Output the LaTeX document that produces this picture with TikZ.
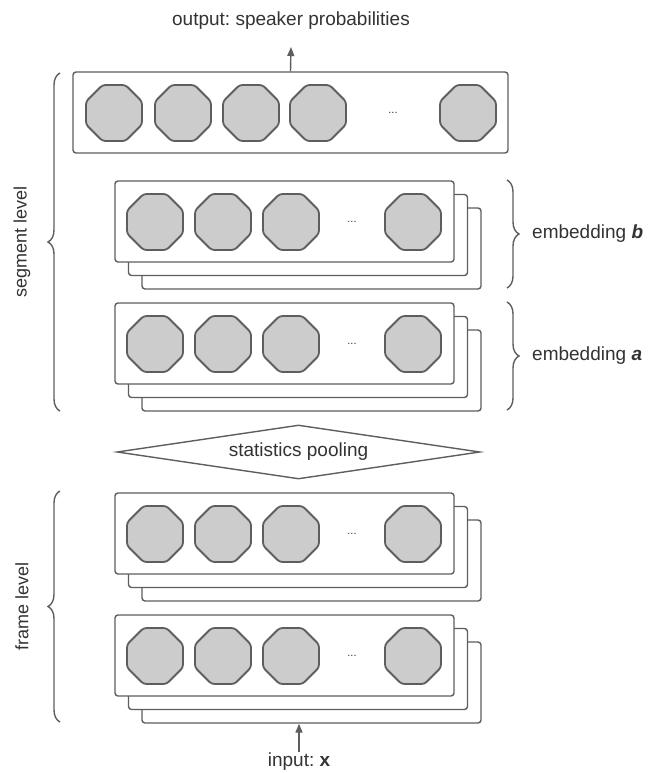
\documentclass[tikz,border=0pt]{standalone}
\usepackage{fontspec}
\setmainfont{Liberation Sans}
\usetikzlibrary{shapes.geometric,arrows.meta,decorations.pathreplacing}
\definecolor{linec}{HTML}{5E5E5E}
\definecolor{octfill}{HTML}{CCCCCC}
\definecolor{txt}{HTML}{333333}
\frenchspacing
\begin{document}
\begin{tikzpicture}[x=1pt,y=-1pt,
  layer/.style={draw=linec, line width=1.4pt, rounded corners=3pt, fill=white,
    minimum width=339pt, minimum height=81pt, inner sep=0pt},
  octd/.style={draw=linec, line width=1.8pt, fill=octfill, rounded corners=3pt},
  dotsn/.style={text=txt, font=\fontsize{11}{13}\selectfont, inner sep=0pt},
  lbl/.style={text=txt, font=\fontsize{19}{23}\selectfont, inner sep=1pt},
  vlbl/.style={text=txt, font=\fontsize{18}{22}\selectfont, inner sep=1pt, rotate=90},
  brc/.style={draw=linec, line width=1.4pt, decorate, decoration={brace, amplitude=12pt}},
  arr/.style={draw=linec, line width=1.4pt, -{Triangle[width=7pt,length=9pt]}}
]
\useasboundingbox (0,0) rectangle (648,773);
\fill[white] (0,0) rectangle (648,773);

\newcommand\octagon[1]{%
  \draw[octd] (#1) ++(-11.5,-28) -- ++(23,0) -- ++(16.5,16.5) -- ++(0,23) -- ++(-16.5,16.5)
    -- ++(-23,0) -- ++(-16.5,-16.5) -- ++(0,-23) -- cycle;}

% output layer
\node[layer, minimum width=435pt] (out) at (290.5,112.5) {};
\foreach \i/\x in {1/114,2/183,3/251,4/318,5/468}{
  \coordinate (out-o\i) at (\x,113);
  \octagon{out-o\i}
}
\node[dotsn] (out-d) at (393,113) {...};
\node[lbl] (outlab) at (291,21) {output: speaker probabilities};
\coordinate (outtip) at (291,47);
\draw[arr] (out.north) -- (outtip);

% stacked layers
\foreach \n/\t in {b/181,a/303,g/493,f/615}{
  \node[layer] (\n3) at (311.5,\t+67.5) {};
  \node[layer] (\n2) at (298,\t+54) {};
  \node[layer] (\n1) at (284.5,\t+40.5) {};
  \foreach \i/\x in {1/155,2/223,3/291,4/413}{
    \coordinate (\n-o\i) at (\x,\t+41);
    \octagon{\n-o\i}
  }
  \node[dotsn] (\n-d) at (352,\t+41) {...};
}

% statistics pooling
\node[diamond, aspect=6.72, draw=linec, line width=1.4pt, fill=white, minimum width=363pt, minimum height=54pt,
  inner sep=0pt, text=txt, font=\fontsize{19}{23}\selectfont] (pool) at (298.5,452) {statistics pooling};

% input
\node[lbl] (inlab) at (299,762) {input: \textbf{x}};
\draw[arr] (inlab.north) -- (inlab.north |- f3.south);

% braces
\coordinate (segT) at (60,73);
\coordinate (segB) at (60,411);
\draw[brc] (segB) -- (segT);
\node[vlbl] (seglab) at (22,242) {segment level};

\coordinate (frT) at (60,491);
\coordinate (frB) at (60,722);
\draw[brc] (frB) -- (frT);
\node[vlbl] (frlab) at (22,606) {frame level};

\coordinate (ebT) at (507,180);
\coordinate (ebB) at (507,288);
\draw[brc] (ebT) -- (ebB);
\node[lbl, anchor=west] (eblab) at (531,234) {embedding \textbf{\textit{b}}};

\coordinate (eaT) at (507,302);
\coordinate (eaB) at (507,410);
\draw[brc] (eaT) -- (eaB);
\node[lbl, anchor=west] (ealab) at (531,356) {embedding \textbf{\textit{a}}};
\end{tikzpicture}
\end{document}
